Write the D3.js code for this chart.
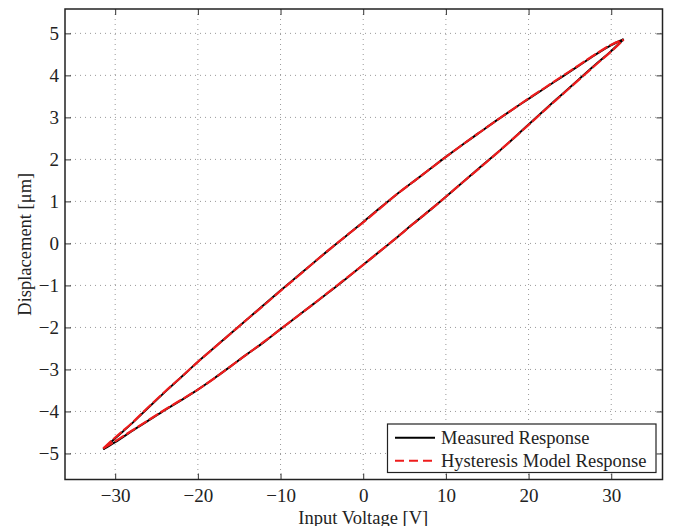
<!DOCTYPE html>
<html>
<head>
<meta charset="utf-8">
<script src="https://cdn.jsdelivr.net/npm/d3@7"></script>
<style>
  html, body { margin: 0; padding: 0; background: #fff; }
  svg { display: block; }
  text { font-family: "Liberation Serif", "Times New Roman", serif; fill: #222; }
</style>
</head>
<body>
<svg id="chart" width="674" height="526"></svg>
<script>
// Input voltage samples [V], shared by both branches of the loop
const voltage = [-31.44, -30, -28, -26, -24, -22, -20, -18, -16, -14, -12, -10, -8, -6, -4, -2, 0,
                 2, 4, 6, 8, 10, 12, 14, 16, 18, 20, 22, 24, 26, 28, 30, 31.5];

// Measured displacement [um]: falling-voltage (upper) and rising-voltage (lower) branches
const measuredUpper = [-4.90, -4.64, -4.29, -3.91, -3.54, -3.18, -2.82, -2.48, -2.14, -1.80, -1.46, -1.12, -0.79, -0.46, -0.13, 0.19, 0.51,
                       0.84, 1.16, 1.46, 1.76, 2.06, 2.35, 2.63, 2.91, 3.18, 3.44, 3.70, 3.96, 4.22, 4.48, 4.72, 4.86];
const measuredLower = [-4.90, -4.73, -4.47, -4.22, -3.97, -3.73, -3.48, -3.21, -2.92, -2.63, -2.35, -2.04, -1.74, -1.44, -1.14, -0.83, -0.51,
                       -0.19, 0.13, 0.46, 0.78, 1.11, 1.45, 1.79, 2.12, 2.47, 2.83, 3.19, 3.54, 3.89, 4.24, 4.58, 4.86];

// Hysteresis model displacement [um]
const modelUpper = [-4.88, -4.62, -4.28, -3.90, -3.53, -3.18, -2.82, -2.48, -2.14, -1.80, -1.47, -1.13, -0.80, -0.46, -0.13, 0.19, 0.50,
                    0.83, 1.16, 1.46, 1.76, 2.06, 2.35, 2.63, 2.91, 3.18, 3.45, 3.71, 3.97, 4.23, 4.49, 4.73, 4.85];
const modelLower = [-4.88, -4.71, -4.46, -4.21, -3.96, -3.72, -3.48, -3.21, -2.92, -2.63, -2.34, -2.04, -1.74, -1.44, -1.13, -0.82, -0.51,
                    -0.19, 0.13, 0.46, 0.78, 1.11, 1.45, 1.78, 2.12, 2.47, 2.82, 3.18, 3.53, 3.88, 4.23, 4.57, 4.85];

const xTicks = [-30, -20, -10, 0, 10, 20, 30];
const yTicks = [-5, -4, -3, -2, -1, 0, 1, 2, 3, 4, 5];
const legendLabels = ["Measured Response", "Hysteresis Model Response"];

const svg = d3.select("#chart");
const plot = { left: 65, right: 662.5, top: 9, bottom: 479.5 };

const x = d3.scaleLinear().domain([-36.07, 36.2]).range([plot.left, plot.right]);
const y = d3.scaleLinear().domain([-5.62, 5.58]).range([plot.bottom, plot.top]);

const fmt = d => d < 0 ? "\u2212" + Math.abs(d) : String(d);

// dotted grid
const grid = svg.append("g");
grid.selectAll("line.gx").data(xTicks).join("line")
  .attr("x1", d => x(d)).attr("x2", d => x(d))
  .attr("y1", plot.top).attr("y2", plot.bottom)
  .attr("stroke", "#999").attr("stroke-width", 1).attr("stroke-dasharray", "1,4");
grid.selectAll("line.gy").data(yTicks).join("line")
  .attr("y1", d => y(d)).attr("y2", d => y(d))
  .attr("x1", plot.left).attr("x2", plot.right)
  .attr("stroke", "#999").attr("stroke-width", 1).attr("stroke-dasharray", "1,4");

// axes with inward ticks on all four sides
const tickLen = 6;
const axisStyle = g => {
  g.select(".domain").remove();
  g.selectAll(".tick line").attr("stroke", "#333").attr("stroke-width", 1);
  g.selectAll(".tick text").style("font-size", "19px").attr("fill", "#222");
};
svg.append("g").attr("transform", `translate(0,${plot.bottom})`)
  .call(d3.axisBottom(x).tickValues(xTicks).tickFormat(fmt).tickSizeInner(-tickLen).tickPadding(9.5))
  .call(axisStyle);
svg.append("g").attr("transform", `translate(0,${plot.top})`)
  .call(d3.axisTop(x).tickValues(xTicks).tickFormat("").tickSizeInner(-tickLen))
  .call(axisStyle);
svg.append("g").attr("transform", `translate(${plot.left},0)`)
  .call(d3.axisLeft(y).tickValues(yTicks).tickFormat(fmt).tickSizeInner(-tickLen).tickPadding(6))
  .call(axisStyle);
svg.append("g").attr("transform", `translate(${plot.right},0)`)
  .call(d3.axisRight(y).tickValues(yTicks).tickFormat("").tickSizeInner(-tickLen))
  .call(axisStyle);

// frame
svg.append("rect")
  .attr("x", plot.left).attr("y", plot.top)
  .attr("width", plot.right - plot.left).attr("height", plot.bottom - plot.top)
  .attr("fill", "none").attr("stroke", "#222").attr("stroke-width", 1.5);

// curves: each branch runs tip to tip
const branch = disp => voltage.map((v, i) => [v, disp[i]]);
const line = d3.line().x(d => x(d[0])).y(d => y(d[1])).curve(d3.curveMonotoneX);

const curves = svg.append("g");
[measuredLower, measuredUpper].forEach(d => {
  curves.append("path").attr("d", line(branch(d)))
    .attr("fill", "none").attr("stroke", "#000").attr("stroke-width", 2);
});
[modelLower, modelUpper].forEach(d => {
  curves.append("path").attr("d", line(branch(d)))
    .attr("fill", "none").attr("stroke", "#ee1c1c").attr("stroke-width", 2.2)
    .attr("stroke-dasharray", "11,2.5");
});

// axis labels
svg.append("text")
  .attr("x", (plot.left + plot.right) / 2 - 0.5).attr("y", 523.5)
  .attr("text-anchor", "middle").style("font-size", "18.5px")
  .text("Input Voltage [V]");
svg.append("text")
  .attr("transform", `translate(31,${(plot.top + plot.bottom) / 2}) rotate(-90)`)
  .attr("text-anchor", "middle").style("font-size", "18.5px")
  .text("Displacement [\u03bcm]");

// legend
const legend = svg.append("g");
legend.append("rect")
  .attr("x", 387.5).attr("y", 424).attr("width", 268.5).attr("height", 48.5)
  .attr("fill", "#fff").attr("stroke", "#222").attr("stroke-width", 1.2);
const legendRows = [
  { label: legendLabels[0], color: "#000", dash: null, yc: 437.7 },
  { label: legendLabels[1], color: "#ee1c1c", dash: "9,5", yc: 460.7 }
];
legendRows.forEach(r => {
  legend.append("line")
    .attr("x1", 395).attr("x2", 435).attr("y1", r.yc).attr("y2", r.yc)
    .attr("stroke", r.color).attr("stroke-width", 2)
    .attr("stroke-dasharray", r.dash);
  legend.append("text")
    .attr("x", 441).attr("y", r.yc + 6.3)
    .style("font-size", "18.5px")
    .text(r.label);
});
</script>
</body>
</html>
